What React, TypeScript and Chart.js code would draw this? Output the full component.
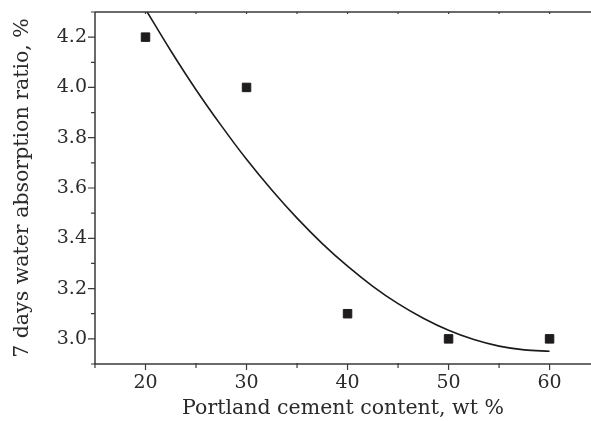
import React, { useEffect, useRef } from "react";
import { Chart, registerables } from "chart.js";

Chart.register(...registerables);

// Measured data (Portland cement content, wt %  vs  7-day water absorption ratio, %)
const contentX = [20, 30, 40, 50, 60];
const absorption = [4.2, 4.0, 3.1, 3.0, 3.0];

// Fitted curve
const fitX = [20, 22.5, 25, 27.5, 30, 32.5, 35, 37.5, 40, 42.5, 45, 47.5, 50, 52.5, 55, 57.5, 60];
const fitY = [4.311, 4.146, 3.991, 3.848, 3.714, 3.592, 3.48, 3.379, 3.289, 3.209, 3.14, 3.082, 3.034, 2.997, 2.971, 2.956, 2.951];

// Axis ticks
const xTickValues = [20, 30, 40, 50, 60];
const xMinorValues = [15, 25, 35, 45, 55];
const yTickValues = [3.0, 3.2, 3.4, 3.6, 3.8, 4.0, 4.2];
const yMinorValues = [2.9, 3.1, 3.3, 3.5, 3.7, 3.9, 4.1, 4.3];
const topTickValues = [20, 25, 30, 35, 40, 45, 50, 55, 60];

const xLabel = "Portland cement content, wt %";
const yLabel = "7 days water absorption ratio, %";

const AXIS_COLOR = "#3a3a3a";
const TEXT_COLOR = "#2a2a2a";
const FONT = "'DejaVu Serif', serif";

const axesPlugin = {
  id: "axesPlugin",
  afterDatasetsDraw(chart: any) {
    const { ctx, chartArea } = chart;
    const { left, right, top, bottom } = chartArea;
    const xs = chart.scales.x;
    const ys = chart.scales.y;
    ctx.save();
    ctx.strokeStyle = AXIS_COLOR;
    ctx.lineWidth = 1.5;
    ctx.beginPath();
    ctx.moveTo(left, top);
    ctx.lineTo(right, top);
    ctx.moveTo(left, top);
    ctx.lineTo(left, bottom);
    ctx.lineTo(right, bottom);
    ctx.stroke();

    ctx.lineWidth = 1.2;
    ctx.beginPath();
    for (const v of yTickValues) {
      const py = ys.getPixelForValue(v);
      ctx.moveTo(left - 7, py);
      ctx.lineTo(left, py);
    }
    for (const v of yMinorValues) {
      const py = ys.getPixelForValue(v);
      ctx.moveTo(left - 4, py);
      ctx.lineTo(left, py);
    }
    for (const v of xTickValues) {
      const px = xs.getPixelForValue(v);
      ctx.moveTo(px, bottom);
      ctx.lineTo(px, bottom + 6);
    }
    for (const v of xMinorValues) {
      const px = xs.getPixelForValue(v);
      ctx.moveTo(px, bottom - 1);
      ctx.lineTo(px, bottom + 4);
    }
    for (const v of topTickValues) {
      const px = xs.getPixelForValue(v);
      ctx.moveTo(px, top);
      ctx.lineTo(px, top + 2);
    }
    ctx.stroke();
    ctx.restore();
  },
};

export default function App() {
  const canvasRef = useRef<HTMLCanvasElement | null>(null);

  useEffect(() => {
    if (!canvasRef.current) return;
    const chart = new Chart(canvasRef.current, {
      type: "scatter",
      data: {
        datasets: [
          {
            type: "line",
            label: "fit",
            data: fitX.map((x, i) => ({ x, y: fitY[i] })),
            borderColor: "#1a1a1a",
            borderWidth: 1.6,
            pointRadius: 0,
            fill: false,
            cubicInterpolationMode: "monotone",
          } as any,
          {
            type: "scatter",
            label: "measured",
            data: contentX.map((x, i) => ({ x, y: absorption[i] })),
            pointStyle: "rect",
            pointRadius: 6,
            backgroundColor: "#1e1c1d",
            borderColor: "#1e1c1d",
            borderWidth: 1,
          } as any,
        ],
      },
      options: {
        animation: false,
        responsive: true,
        maintainAspectRatio: false,
        layout: { autoPadding: false, padding: { top: 12, right: 0, left: 0, bottom: 0 } },
        plugins: {
          legend: { display: false },
          tooltip: { enabled: false },
        },
        scales: {
          x: {
            type: "linear",
            min: 15,
            max: 64.1,
            grid: { display: false, drawTicks: false, tickLength: 0 },
            border: { display: false },
            afterBuildTicks: (scale: any) => {
              scale.ticks = xTickValues.map((v) => ({ value: v }));
            },
            afterFit: (scale: any) => {
              scale.height = 57;
              scale.paddingLeft = 0;
              scale.paddingRight = 0;
              scale.paddingTop = 0;
              scale.paddingBottom = 0;
            },
            ticks: {
              padding: 8,
              color: TEXT_COLOR,
              font: { family: FONT, size: 19 },
              maxRotation: 0,
              callback: (v: any) => String(v),
            },
            title: {
              display: true,
              text: xLabel,
              color: TEXT_COLOR,
              font: { family: FONT, size: 20.5 },
              padding: { top: 0, bottom: 0 },
            },
          },
          y: {
            type: "linear",
            min: 2.9,
            max: 4.3,
            grid: { display: false, drawTicks: false, tickLength: 0 },
            border: { display: false },
            afterBuildTicks: (scale: any) => {
              scale.ticks = yTickValues.map((v) => ({ value: v }));
            },
            afterFit: (scale: any) => {
              scale.width = 95;
              scale.paddingLeft = 0;
              scale.paddingRight = 0;
              scale.paddingTop = 0;
              scale.paddingBottom = 0;
            },
            ticks: {
              padding: 8,
              color: TEXT_COLOR,
              font: { family: FONT, size: 19 },
              callback: (v: any) => Number(v).toFixed(1),
            },
            title: {
              display: true,
              text: yLabel,
              color: TEXT_COLOR,
              font: { family: FONT, size: 20.5 },
              padding: { top: 10, bottom: 0 },
            },
          },
        },
      },
      plugins: [axesPlugin],
    });
    return () => chart.destroy();
  }, []);

  return (
    <div style={{ position: "absolute", left: 0, top: 0, width: 591, height: 421, background: "#fff" }}>
      <canvas ref={canvasRef} />
    </div>
  );
}
